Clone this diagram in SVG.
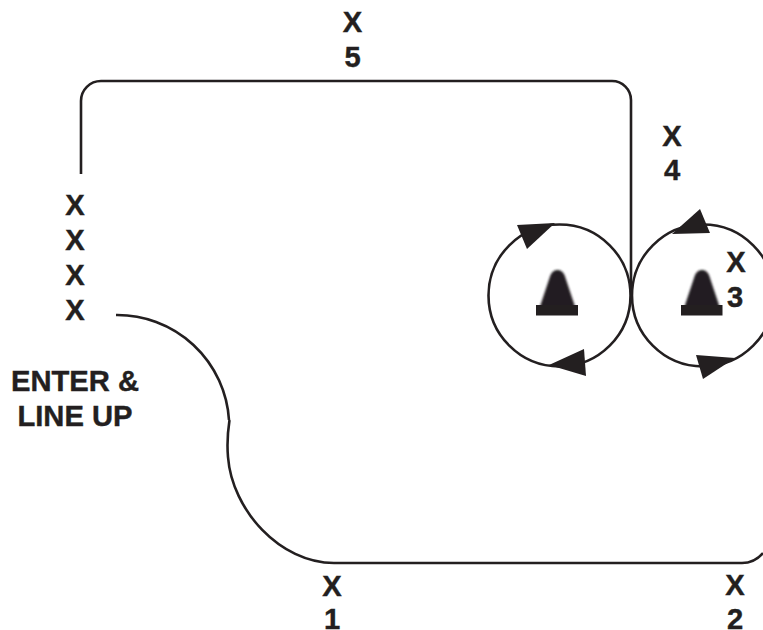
<svg xmlns="http://www.w3.org/2000/svg" width="763" height="630" viewBox="0 0 763 630">
<style>
text{font-family:"Liberation Sans",Arial,sans-serif;font-weight:700;font-size:29.2px;fill:#231f20;stroke:#231f20;stroke-width:0.4;text-anchor:middle}
.l{fill:none;stroke:#231f20;stroke-width:2.6}
.a{fill:#231f20}
</style>
<defs>
<filter id="b" x="-20%" y="-20%" width="140%" height="140%"><feGaussianBlur stdDeviation="0.9"/></filter>
<path id="cone" d="M-17 0L-7 -30Q-4.500 -35 0 -35Q4.500 -35 7 -30L17 0L17 2H-17Z"/>
</defs>
<rect width="763" height="630" fill="#fff"/>
<g id="connectors">
<path class="l" d="M81 174V101A20 20 0 0 1 101 81H612A19 19 0 0 1 631 100V292"/>
<path class="l" d="M116 315A112 112 0 0 1 229 420"/>
<path class="l" d="M229.500 420Q226.500 440 228 457C232 510 280 563 334 563H742C750 563 757 560 763 553"/>
</g>
<g id="circle-left">
<circle class="l" cx="559.500" cy="295.500" r="71"/>
<polygon class="a" points="517,225 555,223 527,249"/>
<polygon class="a" points="549,365 584,349 586,376"/>
<use href="#cone" class="a" x="557.500" y="305" filter="url(#b)"/>
<rect class="a" x="536" y="305" width="42" height="10.500"/>
</g>
<g id="circle-right">
<circle class="l" cx="703" cy="295.500" r="71"/>
<polygon class="a" points="672,234 700,209 710,233"/>
<polygon class="a" points="696,355 735,358 703,379"/>
<use href="#cone" class="a" x="702" y="305" filter="url(#b)"/>
<rect class="a" x="681" y="305" width="41.500" height="10.500"/>
</g>
<g id="label-5"><text x="352.500" y="32">X</text><text x="352.500" y="67">5</text></g>
<g id="label-4"><text x="672" y="146">X</text><text x="672" y="180">4</text></g>
<g id="label-3"><text x="736" y="272">X</text><text x="735" y="307">3</text></g>
<g id="label-start"><text x="75" y="215">X</text><text x="75" y="250">X</text><text x="75" y="285">X</text><text x="75" y="320">X</text></g>
<g id="label-enter"><text x="75" y="391">ENTER &amp;</text><text x="75" y="426">LINE UP</text></g>
<g id="label-1"><text x="332" y="596">X</text><text x="332" y="629">1</text></g>
<g id="label-2"><text x="735" y="595">X</text><text x="735" y="629">2</text></g>
</svg>
